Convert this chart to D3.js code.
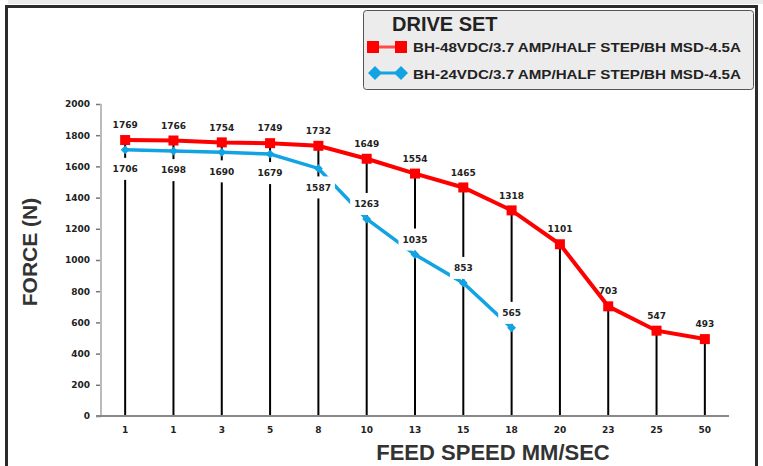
<!DOCTYPE html>
<html>
<head>
<meta charset="utf-8">
<script src="https://cdn.jsdelivr.net/npm/d3@7"></script>
<style>
  body { margin: 0; background: #fff; }
  svg { display: block; }
  .tick text { font-family: "DejaVu Sans", sans-serif; font-weight: bold; font-size: 9px; fill: #222; }
</style>
</head>
<body>
<div class="chart"></div>
<script>
// feed speed categories (mm/sec) as printed on the x axis
var speeds = ['1', '1', '3', '5', '8', '10', '13', '15', '18', '20', '23', '25', '50'];
var force48 = [1769, 1766, 1754, 1749, 1732, 1649, 1554, 1465, 1318, 1101, 703, 547, 493];
var force24 = [1706, 1698, 1690, 1679, 1587, 1263, 1035, 853, 565];
var yTicks = [0, 200, 400, 600, 800, 1000, 1200, 1400, 1600, 1800, 2000];
var seriesNames = ['BH-48VDC/3.7 AMP/HALF STEP/BH MSD-4.5A', 'BH-24VDC/3.7 AMP/HALF STEP/BH MSD-4.5A'];

(function() {
  var W = 763, H = 466;
  var red = '#ff0000', blue = '#12a3e3';

  var svg = d3.select('.chart').append('svg')
    .attr('width', W).attr('height', H);

  // outer frame
  svg.append('rect').attr('x', 8).attr('y', 0).attr('width', W - 8).attr('height', 4).attr('fill', '#e9ebeb');
  svg.append('path')
    .attr('d', 'M6.5,' + (H + 5) + 'V6.5H756.5V' + (H + 5))
    .attr('fill', 'none').attr('stroke', '#2b2b2b').attr('stroke-width', 3);

  var x = d3.scaleBand().domain(d3.range(speeds.length)).range([101, 729]);
  var y = d3.scaleLinear().domain([0, 2000]).range([416, 104]);
  var cx = function(i) { return x(i) + x.bandwidth() / 2; };

  // y axis
  var yAxis = svg.append('g').attr('transform', 'translate(101,0)')
    .call(d3.axisLeft(y).tickValues(yTicks).tickFormat(d3.format('d')).tickSize(5).tickPadding(6));
  yAxis.select('.domain').remove();
  yAxis.selectAll('.tick line').attr('stroke', '#777').attr('stroke-width', 1.5);
  svg.append('line').attr('x1', 101).attr('x2', 101).attr('y1', 104).attr('y2', 416)
    .attr('stroke', '#bbb').attr('stroke-width', 2);

  // x axis
  var xAxis = svg.append('g').attr('transform', 'translate(0,416)')
    .call(d3.axisBottom(x).tickFormat(function(i) { return speeds[i]; }).tickSize(0).tickPadding(11));
  xAxis.select('.domain').remove();
  svg.append('line').attr('x1', 96).attr('x2', 729).attr('y1', 416).attr('y2', 416)
    .attr('stroke', '#888').attr('stroke-width', 2);

  // drop lines
  svg.selectAll('.drop').data(force48).enter().append('line')
    .attr('class', 'drop')
    .attr('x1', function(d, i) { return cx(i); })
    .attr('x2', function(d, i) { return cx(i); })
    .attr('y1', function(d) { return y(d); })
    .attr('y2', 415)
    .attr('stroke', '#000').attr('stroke-width', 2);

  var line = d3.line().x(function(d, i) { return cx(i); }).y(function(d) { return y(d); });

  svg.append('path').datum(force24).attr('d', line)
    .attr('fill', 'none').attr('stroke', blue).attr('stroke-width', 3.5);
  svg.selectAll('.dia').data(force24).enter().append('path')
    .attr('class', 'dia')
    .attr('d', d3.symbol().type(d3.symbolDiamond2).size(50))
    .attr('transform', function(d, i) { return 'translate(' + cx(i) + ',' + y(d) + ')'; })
    .attr('fill', blue);

  svg.append('path').datum(force48).attr('d', line)
    .attr('fill', 'none').attr('stroke', red).attr('stroke-width', 4);
  svg.selectAll('.sq').data(force48).enter().append('rect')
    .attr('class', 'sq')
    .attr('x', function(d, i) { return cx(i) - 5; })
    .attr('y', function(d) { return y(d) - 5; })
    .attr('width', 10).attr('height', 10)
    .attr('fill', red);

  // data labels, the lower series gets white boxes that break the lines
  var addLabel = function(xp, yp, txt, boxed) {
    var g = svg.append('g').attr('transform', 'translate(' + xp + ',' + yp + ')');
    var t = g.append('text').text(txt)
      .attr('text-anchor', 'middle').attr('dy', '0.35em')
      .style('font-family', '"DejaVu Sans", sans-serif').style('font-weight', 'bold')
      .style('font-size', '9px').attr('fill', '#222');
    if (boxed) {
      var bb = t.node().getBBox();
      g.insert('rect', 'text')
        .attr('x', bb.x - 4).attr('y', -11).attr('width', bb.width + 8).attr('height', 22)
        .attr('fill', '#fff');
    }
  };
  force24.forEach(function(d, i) {
    addLabel(cx(i), y(d) + (i < 5 ? 19 : -15), d, true);
  });
  force48.forEach(function(d, i) {
    addLabel(cx(i), y(d) - 15, d, false);
  });

  // axis titles
  svg.append('text').text('FEED SPEED MM/SEC')
    .attr('x', 493).attr('y', 460).attr('text-anchor', 'middle')
    .style('font-family', '"Liberation Sans", Arial, sans-serif').style('font-weight', 'bold')
    .style('font-size', '22px').attr('fill', '#333');
  svg.append('text').text('FORCE (N)')
    .attr('transform', 'translate(37,252) rotate(-90)').attr('text-anchor', 'middle')
    .style('font-family', '"Liberation Sans", Arial, sans-serif').style('font-weight', 'bold')
    .style('font-size', '21px').attr('fill', '#333');

  // legend
  var lg = svg.append('g');
  lg.append('rect').attr('x', 363.5).attr('y', 10.5).attr('width', 390).attr('height', 79).attr('rx', 3)
    .attr('fill', '#ececec').attr('stroke', '#555').attr('stroke-width', 1);
  lg.append('text').text('DRIVE SET').attr('x', 392).attr('y', 31)
    .style('font-family', '"Liberation Sans", Arial, sans-serif').style('font-weight', 'bold')
    .style('font-size', '20px').attr('fill', '#222');

  lg.append('line').attr('x1', 370).attr('x2', 404).attr('y1', 47).attr('y2', 47)
    .attr('stroke', '#ff4a4a').attr('stroke-width', 3);
  [373, 401].forEach(function(px) {
    lg.append('rect').attr('x', px - 6).attr('y', 41).attr('width', 12).attr('height', 12).attr('fill', red);
  });
  lg.append('line').attr('x1', 374).attr('x2', 402).attr('y1', 73).attr('y2', 73)
    .attr('stroke', blue).attr('stroke-width', 3);
  [375, 401].forEach(function(px) {
    lg.append('path').attr('d', 'M' + px + ',66l7,7l-7,7l-7,-7z').attr('fill', blue);
  });

  seriesNames.forEach(function(s, i) {
    lg.append('text').text(s).attr('x', 413).attr('y', 52 + i * 27)
      .attr('textLength', 328).attr('lengthAdjust', 'spacingAndGlyphs')
      .style('font-family', '"Liberation Sans", Arial, sans-serif').style('font-weight', 'bold')
      .style('font-size', '13.5px').attr('fill', '#222');
  });
}).call(this);
</script>
</body>
</html>
